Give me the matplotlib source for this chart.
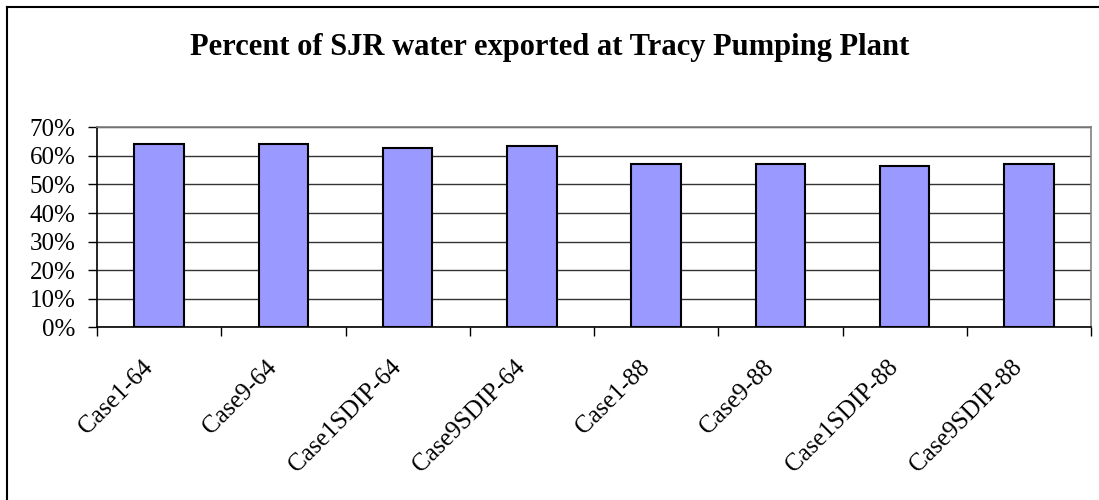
import matplotlib.pyplot as plt
import matplotlib.transforms as mtransforms
from matplotlib.lines import Line2D
import numpy as np

cases = ["Case1-64", "Case9-64", "Case1SDIP-64", "Case9SDIP-64",
         "Case1-88", "Case9-88", "Case1SDIP-88", "Case9SDIP-88"]
percent = [64.2, 64.2, 62.8, 63.4, 57.2, 57.2, 56.5, 57.2]
yticks = [0, 10, 20, 30, 40, 50, 60, 70]

plt.rcParams['font.family'] = ['Liberation Serif', 'DejaVu Serif']

fig = plt.figure(figsize=(10.99, 5.0), dpi=100)
ax = fig.add_axes([97 / 1099, 1 - 327.3 / 500, (1091 - 97) / 1099, 200 / 500])

x = np.arange(len(cases))
ax.bar(x, percent, width=0.4, color="#9999FF", edgecolor="black", linewidth=1.5, zorder=3)

ax.set_xlim(-0.5, len(cases) - 0.5)
ax.set_ylim(0, 70)
ax.set_yticks(yticks)
ax.set_yticklabels([f"{v}%" for v in yticks], fontsize=18)
ax.yaxis.grid(True, color="#333333", linewidth=1.0, zorder=0)

# ticks between categories, labels under the bars
ax.set_xticks(np.arange(-0.5, len(cases) + 0.5, 1.0))
ax.set_xticklabels([])
ax.set_xticks(x, minor=True)
ax.set_xticklabels(cases, minor=True, rotation=45, ha="right", va="top",
                   rotation_mode="anchor", fontsize=18)
ax.tick_params(axis="x", which="major", direction="out", length=6.5, width=1, color="black")
ax.tick_params(axis="x", which="minor", length=0, pad=10)
ax.tick_params(axis="y", direction="out", length=6.5, width=1, pad=9)

# nudge the slanted labels a bit left and down, like the original
shift = mtransforms.ScaledTranslation(-18 / 100, -15 / 100, fig.dpi_scale_trans)
for lbl in ax.get_xticklabels(minor=True):
    lbl.set_transform(lbl.get_transform() + shift)

ax.spines["left"].set_color("black")
ax.spines["bottom"].set_color("black")
ax.spines["top"].set_color("#808080")
ax.spines["right"].set_color("#808080")
for s in ax.spines.values():
    s.set_linewidth(1.2)

fig.text(0.5, 1 - 47 / 500, "Percent of SJR water exported at Tracy Pumping Plant",
         ha="center", va="center", fontsize=22, fontweight="bold")

# outer chart frame (only top and left visible)
fig.add_artist(Line2D([7 / 1099, 7 / 1099], [0, 1 - 7 / 500], color="black", linewidth=1.5,
                      transform=fig.transFigure))
fig.add_artist(Line2D([7 / 1099, 1], [1 - 7 / 500, 1 - 7 / 500], color="black", linewidth=1.5,
                      transform=fig.transFigure))

fig.savefig("out.png", dpi=100)
